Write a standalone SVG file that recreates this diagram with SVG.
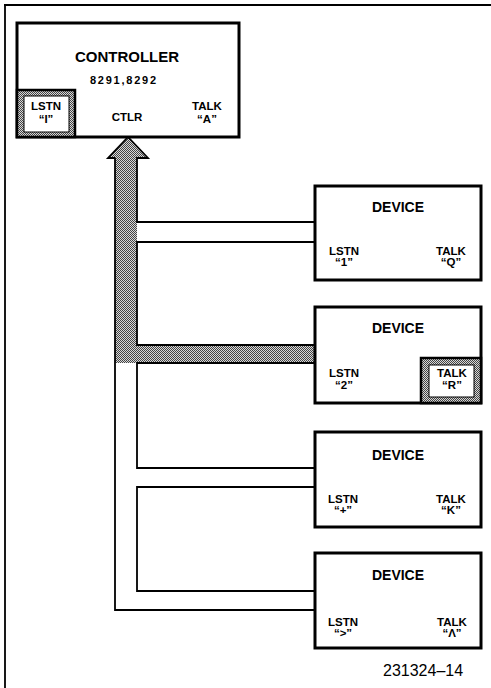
<svg xmlns="http://www.w3.org/2000/svg" width="491" height="688" viewBox="0 0 491 688">
<defs>
<pattern id="stip" width="2" height="2" patternUnits="userSpaceOnUse">
<rect width="2" height="2" fill="#d8d8d8"/>
<rect x="0" y="0" width="1" height="1" fill="#444"/>
<rect x="1" y="1" width="1" height="1" fill="#444"/>
</pattern>
</defs>
<style>
.box{fill:#fff;stroke:#000;stroke-width:3}
.ring{fill:url(#stip);stroke:#000;stroke-width:2.5}
.inner{fill:#fff;stroke:#000;stroke-width:1}
.ln{fill:none;stroke:#000;stroke-width:1.8;stroke-linejoin:miter}
text{font-family:"Liberation Sans",Arial,sans-serif;font-weight:bold;text-anchor:middle;fill:#000}
.t1{font-size:15px}
.t2{font-size:14px}
.lb{font-size:11.5px}
.fn{font-weight:normal;font-size:16px;text-anchor:start}
</style>
<rect width="491" height="688" fill="#fff"/>
<path class="ln" d="M4,5 H491 M5,4 V688" stroke-width="1.5"/>

<g id="connectors">
<path d="M128,137 L108,158 L115,158 L115,363 L315,363 L315,345 L137,345 L137,158 L148,158 Z" fill="url(#stip)"/>
<path class="ln" d="M115,158 V610 H315"/>
<path class="ln" d="M115,158 H108 L128,137 L148,158 H137 V222 H315"/>
<path class="ln" d="M315,242 H137 V345 H315"/>
<path class="ln" d="M315,363 H137 V468 H315"/>
<path class="ln" d="M315,487 H137 V591 H315"/>
</g>

<g id="controller">
<rect class="box" x="17" y="23" width="222" height="114"/>
<rect class="ring" x="17" y="90" width="58" height="47"/>
<rect class="inner" x="24" y="96" width="45" height="36"/>
<text class="t1" x="127" y="62">CONTROLLER</text>
<text x="123" y="84" font-size="11" textLength="66" lengthAdjust="spacing">8291,8292</text>
<text class="lb" x="46" y="110">LSTN</text>
<text class="lb" x="46" y="123">“I”</text>
<text class="lb" x="127" y="121">CTLR</text>
<text class="lb" x="207" y="110">TALK</text>
<text class="lb" x="207" y="123">“A”</text>
</g>

<g id="device1">
<rect class="box" x="315" y="186" width="166" height="94"/>
<text class="t2" x="398" y="212">DEVICE</text>
<text class="lb" x="344" y="255">LSTN</text>
<text class="lb" x="344" y="266">“1”</text>
<text class="lb" x="451" y="255">TALK</text>
<text class="lb" x="451" y="266">“Q”</text>
</g>

<g id="device2">
<rect class="box" x="315" y="307" width="166" height="96"/>
<rect class="ring" x="421" y="358" width="60" height="45"/>
<rect class="inner" x="429" y="365" width="45" height="32"/>
<text class="t2" x="398" y="333">DEVICE</text>
<text class="lb" x="344" y="377">LSTN</text>
<text class="lb" x="344" y="389">“2”</text>
<text class="lb" x="452" y="377">TALK</text>
<text class="lb" x="452" y="389">“R”</text>
</g>

<g id="device3">
<rect class="box" x="315" y="432" width="166" height="95"/>
<text class="t2" x="398" y="460">DEVICE</text>
<text class="lb" x="343" y="503">LSTN</text>
<text class="lb" x="343" y="514">“+”</text>
<text class="lb" x="451" y="503">TALK</text>
<text class="lb" x="451" y="514">“K”</text>
</g>

<g id="device4">
<rect class="box" x="315" y="553" width="166" height="95"/>
<text class="t2" x="398" y="580">DEVICE</text>
<text class="lb" x="343" y="626">LSTN</text>
<text class="lb" x="343" y="637">“&gt;”</text>
<text class="lb" x="452" y="626">TALK</text>
<text class="lb" x="452" y="637">“Λ”</text>
</g>

<text class="fn" x="383" y="676">231324–14</text>
</svg>
